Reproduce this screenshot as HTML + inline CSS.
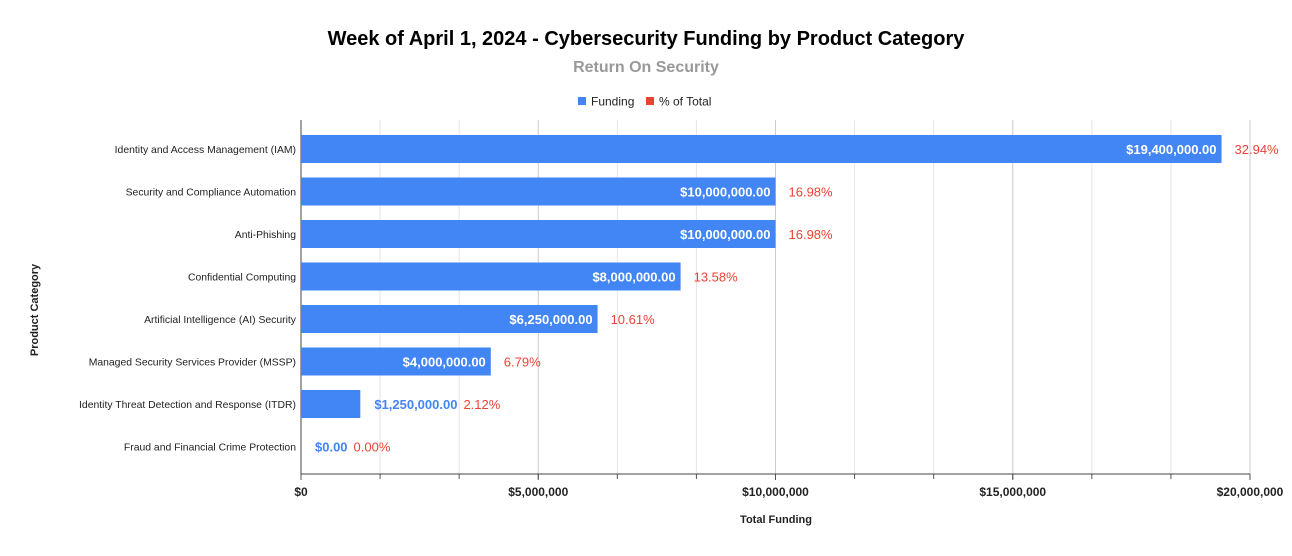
<!DOCTYPE html>
<html><head><meta charset="utf-8"><style>
body{margin:0;background:#fff;font-family:"Liberation Sans",Arial,sans-serif}
</style></head><body>
<svg id="c" width="1292" height="551" xmlns="http://www.w3.org/2000/svg" font-family="Liberation Sans, Arial, sans-serif">
<rect width="1292" height="551" fill="#fff"/>
<text x="646" y="45" text-anchor="middle" font-size="20" font-weight="bold" fill="#000">Week of April 1, 2024 - Cybersecurity Funding by Product Category</text>
<text x="646" y="72" text-anchor="middle" font-size="16" font-weight="bold" fill="#999">Return On Security</text>
<g>
<rect x="578" y="97" width="8" height="8" fill="#4285f4"/>
<text x="591" y="105.5" font-size="12" fill="#222">Funding</text>
<rect x="646" y="97" width="8" height="8" fill="#ea4335"/>
<text x="659" y="105.5" font-size="12" fill="#222">% of Total</text>
</g>
<text transform="translate(38,310) rotate(-90)" text-anchor="middle" font-size="11" font-weight="bold" fill="#222">Product Category</text>
<text x="776" y="523" text-anchor="middle" font-size="11" font-weight="bold" fill="#222">Total Funding</text>
<g id="grid"></g><g id="bars"></g>
</svg>
<script>
const categories=["Identity and Access Management (IAM)","Security and Compliance Automation","Anti-Phishing","Confidential Computing","Artificial Intelligence (AI) Security","Managed Security Services Provider (MSSP)","Identity Threat Detection and Response (ITDR)","Fraud and Financial Crime Protection"];
const funding=[19400000,10000000,10000000,8000000,6250000,4000000,1250000,0];
const percent=[32.94,16.98,16.98,13.58,10.61,6.79,2.12,0.00];
const tickValues=[0,5000000,10000000,15000000,20000000];
const tickLabels=["$0","$5,000,000","$10,000,000","$15,000,000","$20,000,000"];
const NS="http://www.w3.org/2000/svg";
const x0=301,x1=1250,yTop=120,yAxis=474,y0=149,step=42.5,bh=28;
const xs=v=>x0+(x1-x0)*v/20000000;
const ys=i=>y0+i*step;
function mk(tag,attrs,parent,txt){const e=document.createElementNS(NS,tag);for(const k in attrs)e.setAttribute(k,attrs[k]);if(txt!==undefined)e.textContent=txt;parent.appendChild(e);return e;}
const grid=document.getElementById('grid'),bars=document.getElementById('bars');
for(let k=1;k<=12;k++){const v=k*20000000/12;const x=xs(v);
 const g=mk('line',{x1:x,x2:x,y1:yTop,y2:yAxis,stroke:k%3==0?'#ccc':'#e6e6e6','stroke-width':1},grid);
 
 
 const t=mk('line',{x1:x,x2:x,y1:yAxis,y2:yAxis+5,stroke:'#555'},grid);
 
 
}
tickValues.forEach((v,i)=>{const x=xs(v);
 const t=mk('line',{x1:x,x2:x,y1:yAxis,y2:yAxis+6,stroke:'#555'},grid);
 
 
 const l=mk('text',{x:x,y:yAxis+22,'text-anchor':'middle','font-size':12,'font-weight':'bold',fill:'#222'},grid,tickLabels[i]);
 
 
});
const ax=mk('line',{x1:x0,x2:x1,y1:yAxis,y2:yAxis,stroke:'#444'},grid);


const ay=mk('line',{x1:x0,x2:x0,y1:yTop,y2:yAxis,stroke:'#444'},grid);


const fmt=v=>'$'+v.toLocaleString('en-US',{minimumFractionDigits:2,maximumFractionDigits:2});
categories.forEach((c,i)=>{const y=ys(i),xe=xs(funding[i]);
 const lab=mk('text',{x:296,y:y+4,'text-anchor':'end','font-size':10.4,fill:'#222'},bars,c);
 
 
 if(funding[i]>0){const r=mk('rect',{x:x0,y:y-bh/2,width:xe-x0,height:bh,fill:'#4285f4'},bars);
  
  }
 const txt=fmt(funding[i]);
 const wide=xe-x0>150;
 let pctX;
 if(wide){const t=mk('text',{x:xe-5,y:y+5,'text-anchor':'end','font-size':13,'font-weight':'bold',fill:'#fff'},bars,txt);
  
  
  pctX=xe+13;}
 else{const t=mk('text',{x:xe+14,y:y+5,'font-size':13,'font-weight':'bold',fill:'#4285f4'},bars,txt);
  
  
  pctX=xe+14+t.getComputedTextLength()+6;}
 const p=mk('text',{x:pctX,y:y+5,'font-size':13,fill:'#ea4335'},bars,percent[i].toFixed(2)+'%');
 
 
});
</script>
</body></html>
